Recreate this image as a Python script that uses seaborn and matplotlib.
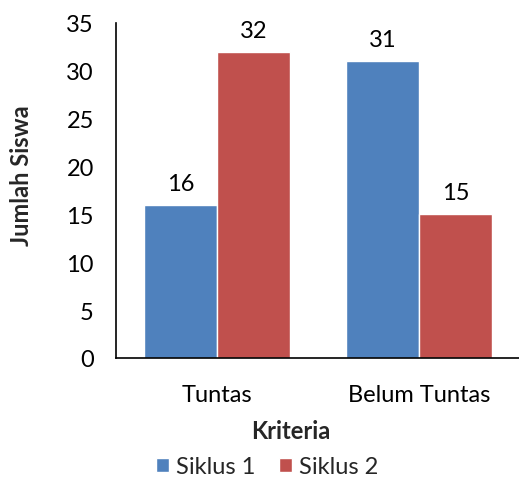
import matplotlib
matplotlib.use("Agg")
import matplotlib.pyplot as plt
import seaborn as sns
import pandas as pd

categories = ["Tuntas", "Belum Tuntas"]
series_names = ["Siklus 1", "Siklus 2"]
siklus1 = [16, 31]
siklus2 = [32, 15]
y_ticks = [0, 5, 10, 15, 20, 25, 30, 35]

df = pd.DataFrame({
    "Kriteria": categories * 2,
    "Jumlah Siswa": siklus1 + siklus2,
    "Siklus": [series_names[0]] * 2 + [series_names[1]] * 2,
})

sns.set_style("white")
plt.rcParams["font.family"] = ["Lato", "DejaVu Sans"]

fig = plt.figure(figsize=(5.19, 4.81), dpi=100)
ax = fig.add_axes([116 / 519, 1 - 359 / 481, 404 / 519, 335 / 481])

palette = ["#4F81BD", "#C0504D"]
sns.barplot(data=df, x="Kriteria", y="Jumlah Siswa", hue="Siklus",
            palette=palette, width=0.72, saturation=1, ax=ax, legend=True)

for container in ax.containers:
    ax.bar_label(container, padding=8, fontsize=17, color="#000000")

ax.set_ylim(0, 35)
ax.set_xlim(-0.5, 1.5)
ax.set_yticks(y_ticks)
ax.tick_params(axis="both", length=0, labelsize=17, colors="#000000")
ax.tick_params(axis="y", pad=16)
ax.tick_params(axis="x", pad=19)
for s in ["top", "right"]:
    ax.spines[s].set_visible(False)
for s in ["left", "bottom"]:
    ax.spines[s].set_color("#000000")
    ax.spines[s].set_linewidth(1.2)

ax.set_xlabel("Kriteria", fontsize=17, fontweight="bold")
ax.set_ylabel("Jumlah Siswa", fontsize=17, fontweight="bold")
ax.xaxis.set_label_coords((291 - 116) / 404, -(432 - 359) / 335)
ax.yaxis.set_label_coords(-(116 - 22) / 404, (359 - 176) / 335)
ax.xaxis.label.set_va("center")
ax.yaxis.label.set_va("center")

handles, labels = ax.get_legend_handles_labels()
ax.get_legend().remove()
fig.legend(handles, labels, loc="center", bbox_to_anchor=(267 / 519, 1 - 468 / 481),
           ncol=2, frameon=False, fontsize=17, handlelength=0.55, handleheight=0.55,
           handletextpad=0.3, columnspacing=1.0)

fig.savefig("out.png", dpi=100)
